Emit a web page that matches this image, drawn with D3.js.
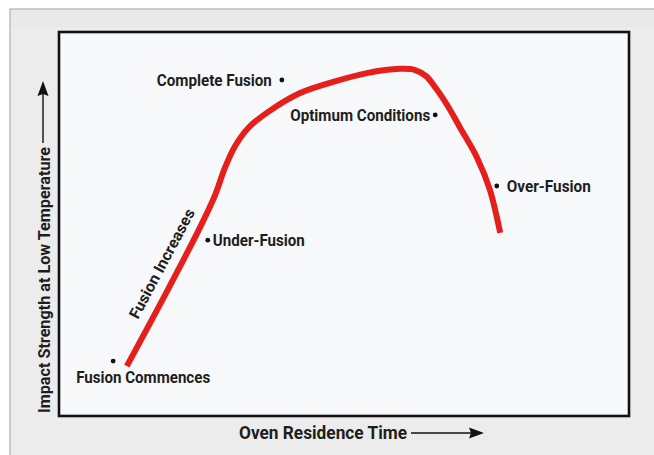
<!DOCTYPE html>
<html><head><meta charset="utf-8">
<script src="https://cdn.jsdelivr.net/npm/d3@7/dist/d3.min.js"></script>
<style>body{margin:0;background:#fff}svg{display:block}</style>
</head><body><div id="c"></div>
<script>
// Curve: oven residence time (relative units) vs impact strength (relative units)
const timeValues = [11.9, 18.6, 24.7, 27.4, 29.1, 30.9, 33.2, 36.7, 42.3, 48.1, 54.0, 59.8, 62.5, 64.4, 66.1, 68.1, 70.4, 73.3, 75.6, 77.4];
const strengthValues = [13.0, 31.5, 49.0, 57.6, 64.6, 70.3, 75.0, 79.2, 84.1, 87.0, 89.3, 90.4, 90.1, 88.5, 85.4, 81.0, 75.0, 67.4, 58.9, 47.7];
// Annotated stages
const stageLabels = ["Fusion Commences", "Under-Fusion", "Complete Fusion", "Optimum Conditions", "Over-Fusion"];
const stageTime = [9.5, 26.1, 39.1, 66.0, 76.8];
const stageStrength = [14.3, 45.8, 87.5, 78.4, 59.9];
const xTitle = "Oven Residence Time";
const yTitle = "Impact Strength at Low Temperature";
const slopeLabel = "Fusion Increases";

const W = 654, H = 455;
const box = {l: 59, t: 32, r: 629, b: 416};
const FONT = "Roboto,'Liberation Sans',sans-serif";

const svg = d3.select("#c").append("svg").attr("width", W).attr("height", H);

svg.append("rect").attr("x", 10).attr("y", 9).attr("width", W).attr("height", H)
  .attr("fill", "#ececec").attr("stroke", "#b0b0b0").attr("stroke-width", 1.2);
svg.append("rect").attr("x", 11).attr("y", 10).attr("width", W).attr("height", 18)
  .attr("fill", "#e9e9eb");

svg.append("rect").attr("x", box.l).attr("y", box.t)
  .attr("width", box.r - box.l).attr("height", box.b - box.t)
  .attr("fill", "#f7f8fa").attr("stroke", "#111").attr("stroke-width", 2.6);

const x = d3.scaleLinear().domain([0, 100]).range([box.l, box.r]);
const y = d3.scaleLinear().domain([0, 100]).range([box.b, box.t]);

const pts = timeValues.map((t, i) => [t, strengthValues[i]]);
const line = d3.line().x(d => x(d[0])).y(d => y(d[1])).curve(d3.curveCatmullRom.alpha(0.5));
svg.append("path").attr("d", line(pts)).attr("fill", "none")
  .attr("stroke", "#e5201c").attr("stroke-width", 6).attr("stroke-linecap", "butt").attr("stroke-linejoin", "round");

// label placement rules: [dx, dy, anchor, targetWidth]
const place = [[-37, 22, "start", 134], [5, 6, "start", 92], [-10, 6, "end", 115], [-5, 6, "end", 140], [10, 6, "start", 84]];
const g = svg.append("g").attr("font-family", FONT).attr("font-weight", 700).attr("fill", "#1e1e1e");
stageLabels.forEach((lab, i) => {
  const cx = x(stageTime[i]), cy = y(stageStrength[i]);
  g.append("circle").attr("cx", cx).attr("cy", cy).attr("r", 2.4).attr("fill", "#111");
  const p = place[i];
  g.append("text").attr("x", cx + p[0]).attr("y", cy + p[1]).attr("text-anchor", p[2])
    .attr("font-size", 16).attr("textLength", p[3]).attr("lengthAdjust", "spacingAndGlyphs").text(lab);
});

// slope label along rising branch
g.append("text").attr("transform", "translate(138,320) rotate(-62)")
  .attr("font-size", 15.5).attr("textLength", 122).attr("lengthAdjust", "spacingAndGlyphs").text(slopeLabel);

// x title with arrow
g.append("text").attr("x", 239).attr("y", 439).attr("font-size", 19)
  .attr("textLength", 168).attr("lengthAdjust", "spacingAndGlyphs").text(xTitle);
svg.append("line").attr("x1", 411).attr("y1", 433).attr("x2", 474).attr("y2", 433).attr("stroke", "#111").attr("stroke-width", 1.4);
svg.append("path").attr("d", "M484,433 L469,427.5 L471,433 L469,438.5 Z").attr("fill", "#111");

// y title with arrow
g.append("text").attr("transform", "translate(50,413) rotate(-90)").attr("font-size", 16.5)
  .attr("textLength", 266).attr("lengthAdjust", "spacingAndGlyphs").text(yTitle);
svg.append("line").attr("x1", 43).attr("y1", 143).attr("x2", 43).attr("y2", 92).attr("stroke", "#111").attr("stroke-width", 1.4);
svg.append("path").attr("d", "M43,81 L37.5,96 L43,94 L48.5,96 Z").attr("fill", "#111");
</script></body></html>
